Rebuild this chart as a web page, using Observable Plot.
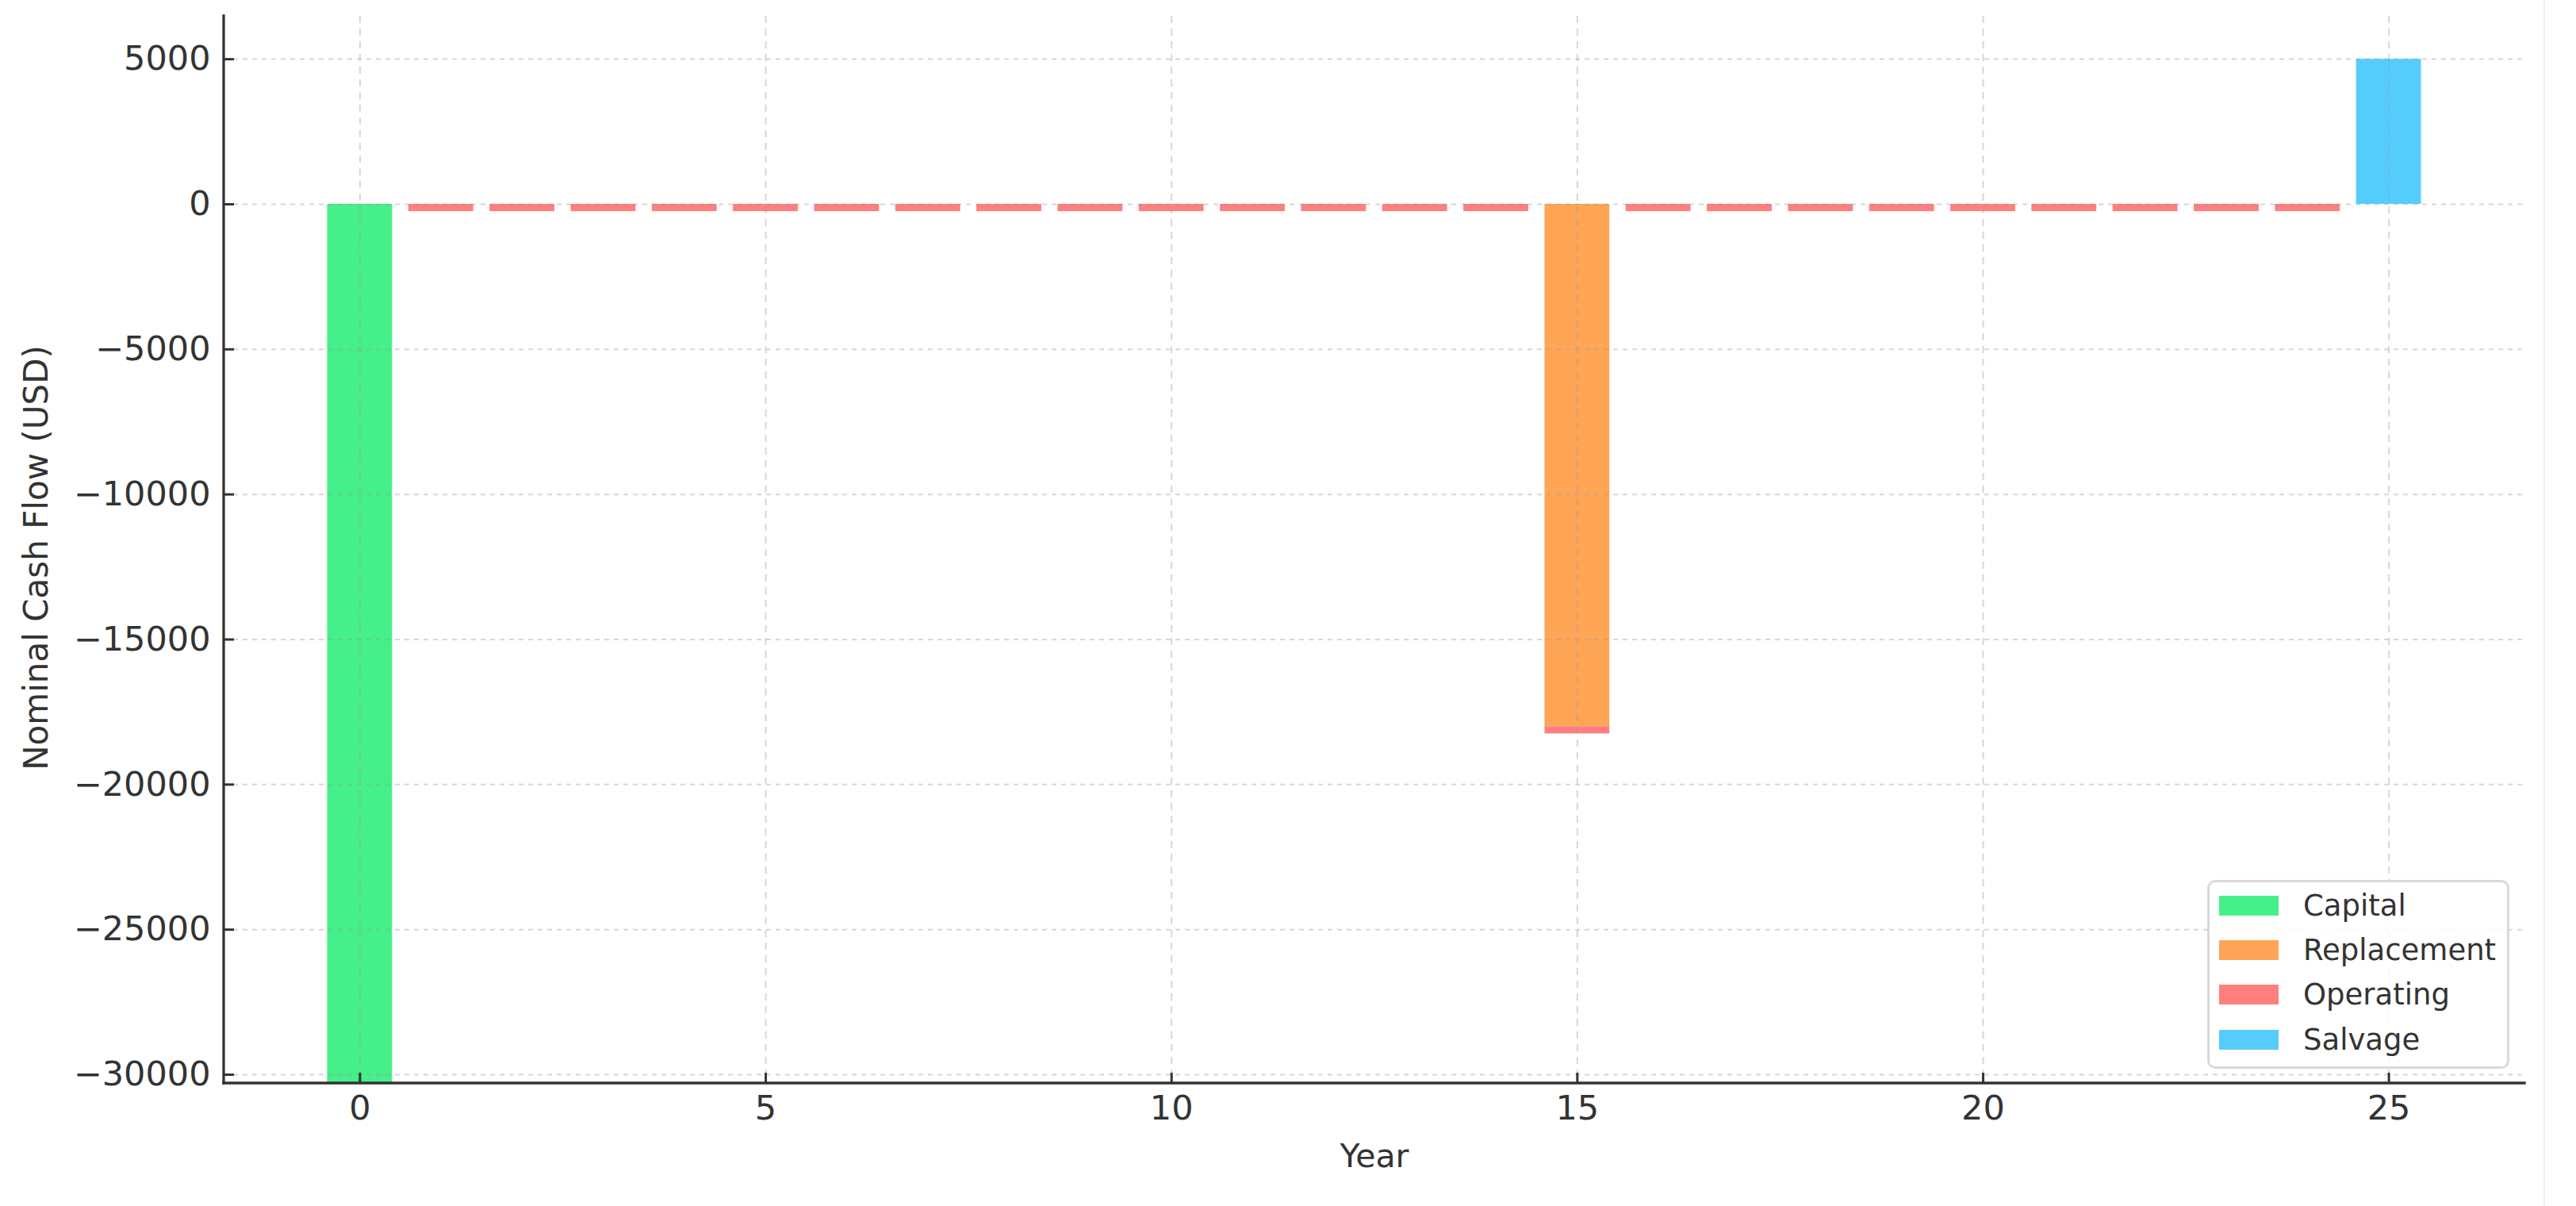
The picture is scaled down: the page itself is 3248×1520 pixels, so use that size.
<!DOCTYPE html>
<html>
<head>
<meta charset="utf-8">
<script src="https://cdn.jsdelivr.net/npm/d3@7"></script>
<script src="https://cdn.jsdelivr.net/npm/@observablehq/plot@0.6"></script>
<style>
  html, body { margin: 0; padding: 0; background: #fff; }
  #wrap { position: relative; width: 3248px; height: 1520px; overflow: hidden; font-family: "DejaVu Sans", sans-serif; }
  #legend {
    position: absolute; left: 2783px; top: 1109px; width: 381px; height: 238px;
    box-sizing: border-box; border: 3px solid #d9d9d9; border-radius: 10px;
    background: rgba(255,255,255,0.85); padding: 1px 0 6px 12px;
  }
  .row { display: flex; align-items: center; height: 56.3px; font-size: 37px; color: #333; }
  .sw { width: 75px; height: 25px; margin-right: 31px; flex: none; }
  #edge { position: absolute; left: 3207px; top: 0; width: 2px; height: 1520px; background: #eeeeee; }
</style>
</head>
<body>
<div id="wrap"></div>
<script>
// ---- data ----
const categories = ["Capital", "Replacement", "Operating", "Salvage"];
const colors = ["#45ef89", "#ffa556", "#ff7f7f", "#55cdfc"];

const capitalYears = [0];
const capitalValues = [-30300];
const replacementYears = [15];
const replacementValues = [-18000];
const operatingYears = [1, 2, 3, 4, 5, 6, 7, 8, 9, 10, 11, 12, 13, 14, 15, 16, 17, 18, 19, 20, 21, 22, 23, 24];
const operatingValues = [-250, -250, -250, -250, -250, -250, -250, -250, -250, -250, -250, -250,
                         -250, -250, -250, -250, -250, -250, -250, -250, -250, -250, -250, -250];
const salvageYears = [25];
const salvageValues = [5000];

const years = [0, 1, 2, 3, 4, 5, 6, 7, 8, 9, 10, 11, 12, 13, 14, 15, 16, 17, 18, 19, 20, 21, 22, 23, 24, 25];
const xTicks = [0, 5, 10, 15, 20, 25];
const yTicks = [-30000, -25000, -20000, -15000, -10000, -5000, 0, 5000];
const yDomain = [-30300, 6480];

// ---- table ----
const series = [
  [categories[0], capitalYears, capitalValues],
  [categories[1], replacementYears, replacementValues],
  [categories[2], operatingYears, operatingValues],
  [categories[3], salvageYears, salvageValues]
];
const rows = [];
for (const [cat, ys, vs] of series) ys.forEach((yr, i) => rows.push({category: cat, year: yr, value: vs[i]}));

function spines(index, scales, values, dims) {
  const {marginLeft, marginTop, marginBottom, marginRight, width, height} = dims;
  const g = d3.create("svg:g").attr("stroke", "#333").attr("stroke-width", 3.3).attr("stroke-linecap", "square");
  g.append("line").attr("x1", marginLeft).attr("x2", marginLeft).attr("y1", marginTop).attr("y2", height - marginBottom);
  g.append("line").attr("x1", marginLeft).attr("x2", width - marginRight).attr("y1", height - marginBottom).attr("y2", height - marginBottom);
  return g.node();
}

const chart = Plot.plot({
  width: 3248,
  height: 1520,
  marginLeft: 282,
  marginRight: 65,
  marginTop: 20,
  marginBottom: 155,
  style: {fontFamily: "DejaVu Sans, sans-serif", fontSize: "43px", color: "#333", background: "transparent"},
  x: {type: "band", domain: years, paddingInner: 0.2, paddingOuter: 1.275, round: false},
  y: {domain: yDomain},
  color: {domain: categories, range: colors},
  marks: [
    Plot.barY(rows, {x: "year", y: "value", fill: "category", inset: 0}),
    Plot.gridY(yTicks, {stroke: "#9a9a9a", strokeOpacity: 0.4, strokeWidth: 2, strokeDasharray: "6,6"}),
    Plot.gridX(xTicks, {stroke: "#9a9a9a", strokeOpacity: 0.4, strokeWidth: 2, strokeDasharray: "9,7"}),
    Plot.axisY(yTicks, {tickSize: -13, tickPadding: 30, tickFormat: d3.format("d"), label: null, strokeWidth: 3, fontSize: 43, color: "#333"}),
    Plot.axisX(xTicks, {tickSize: -13, tickPadding: 28, label: null, strokeWidth: 3, fontSize: 43, color: "#333"}),
    spines,
    Plot.text(["Nominal Cash Flow (USD)"], {text: d => d, frameAnchor: "left", textAnchor: "middle", rotate: -90, dx: -236, dy: 10, fontSize: 42, fill: "#333", lineAnchor: "middle"}),
    Plot.text(["Year"], {text: d => d, frameAnchor: "bottom", dy: 92, fontSize: 41, fill: "#333", lineAnchor: "middle"})
  ]
});

const wrap = document.getElementById("wrap");
wrap.appendChild(chart);
chart.style.position = "absolute";
chart.style.left = "0px";
chart.style.top = "0px";

const edge = document.createElement("div");
edge.id = "edge";
wrap.appendChild(edge);

const legend = document.createElement("div");
legend.id = "legend";
categories.forEach((c, i) => {
  const r = document.createElement("div");
  r.className = "row";
  const s = document.createElement("div");
  s.className = "sw";
  s.style.background = colors[i];
  const t = document.createElement("span");
  t.textContent = c;
  r.appendChild(s);
  r.appendChild(t);
  legend.appendChild(r);
});
wrap.appendChild(legend);
</script>
</body>
</html>
